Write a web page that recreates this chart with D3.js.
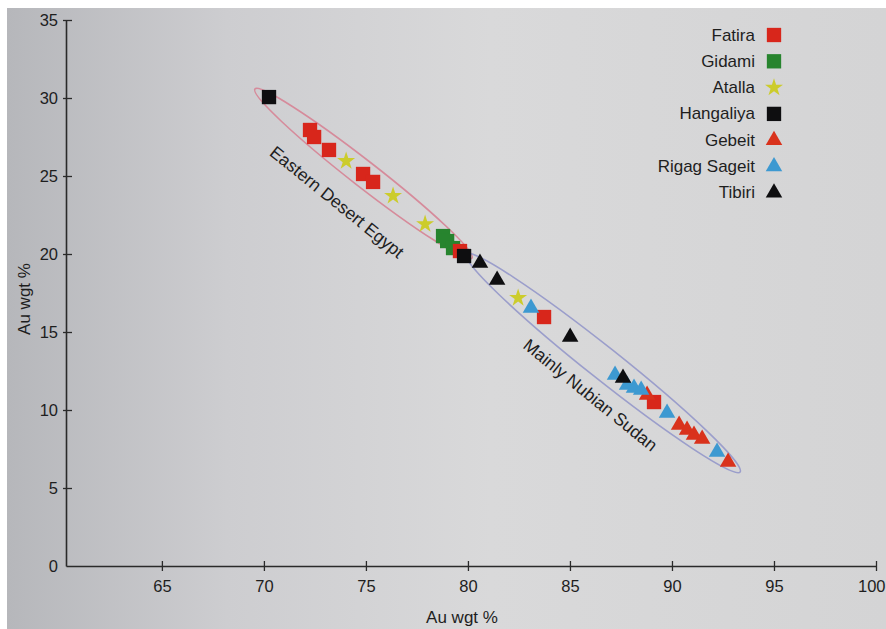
<!DOCTYPE html>
<html>
<head>
<meta charset="utf-8">
<script src="https://cdn.jsdelivr.net/npm/d3@7"></script>
<style>
  html, body { margin: 0; padding: 0; background: #ffffff; }
  svg { display: block; }
  text { font-family: "Liberation Sans", Arial, Helvetica, sans-serif; fill: #1e1e1e; }
</style>
</head>
<body>
<svg id="chart" width="886" height="629"></svg>
<script>
// Sample compositions, [x, y] in wgt %
const fatira    = [[72.26, 27.95], [72.46, 27.50], [73.19, 26.67], [74.86, 25.13], [75.35, 24.62],
                   [79.61, 20.19], [83.73, 15.96], [89.12, 10.51]];
const gidami    = [[78.78, 21.15], [78.98, 20.83], [79.27, 20.38]];
const atalla    = [[74.03, 25.96], [76.33, 23.72], [77.90, 21.92], [82.46, 17.18]];
const hangaliya = [[70.25, 30.06], [79.81, 19.87]];
const gebeit    = [[88.78, 10.96], [90.35, 9.04], [90.74, 8.72], [91.08, 8.40], [91.48, 8.14], [92.75, 6.67]];
const rigag     = [[83.09, 16.54], [87.21, 12.24], [87.80, 11.60], [88.14, 11.41], [88.49, 11.28],
                   [89.76, 9.81], [92.21, 7.31]];
const tibiri    = [[80.59, 19.42], [81.43, 18.33], [85.01, 14.68], [87.60, 12.05]];

const seriesNames = ["Fatira", "Gidami", "Atalla", "Hangaliya", "Gebeit", "Rigag Sageit", "Tibiri"];
const xTicks = [65, 70, 75, 80, 85, 90, 95, 100];
const yTicks = [0, 5, 10, 15, 20, 25, 30, 35];

// Group outlines: the two tips of each ellipse, and the group labels
const eastTips  = [[69.56, 30.58], [80.20, 19.74]];
const nubiaTips = [[79.91, 20.00], [93.34, 6.03]];
const groupLabels = ["Eastern Desert Egypt", "Mainly Nubian Sudan"];
const groupLabelAt = [[73.58, 23.33], [86.00, 10.96]];

const svg = d3.select("#chart");
const W = 886, H = 629;

// paper background
const defs = svg.append("defs");
const grad = defs.append("linearGradient").attr("id", "paper").attr("x1", "0").attr("x2", "1").attr("y1", "0").attr("y2", "0");
grad.append("stop").attr("offset", "0").attr("stop-color", "#b6b7bb");
grad.append("stop").attr("offset", "0.25").attr("stop-color", "#cdcdd0");
grad.append("stop").attr("offset", "0.55").attr("stop-color", "#d9d9da");
grad.append("stop").attr("offset", "1").attr("stop-color", "#d4d4d5");
svg.append("rect").attr("x", 7).attr("y", 8).attr("width", W - 7).attr("height", H - 8).attr("fill", "url(#paper)");

const x = d3.scaleLinear().domain([60.3, 100]).range([66, 876]);
const y = d3.scaleLinear().domain([0, 35]).range([566, 20]);

const axisColor = "#2a2a2a";

// axes
const xAxis = svg.append("g").attr("transform", `translate(0,${y(0)})`)
  .call(d3.axisBottom(x).tickValues(xTicks).tickSize(5).tickSizeOuter(0).tickPadding(9));
const yAxis = svg.append("g").attr("transform", `translate(${x.range()[0]},0)`)
  .call(d3.axisLeft(y).tickValues(yTicks).tickSize(3).tickSizeOuter(0).tickPadding(5));

[xAxis, yAxis].forEach(g => {
  g.select(".domain").attr("stroke", axisColor).attr("stroke-width", 1.6);
  g.selectAll(".tick line").attr("stroke", axisColor).attr("stroke-width", 1.3);
  g.selectAll(".tick text").attr("font-size", 16.5).attr("fill", "#1e1e1e")
    .attr("font-family", "'Liberation Sans', Arial, sans-serif");
});
// ticks cross the axis line
xAxis.selectAll(".tick line").attr("y1", -5).attr("y2", 5);
yAxis.selectAll(".tick line").attr("x1", -3).attr("x2", 6);
yAxis.selectAll(".tick").filter(d => d === 0).select("line").remove();
// keep the last x label inside the frame
xAxis.selectAll(".tick").filter(d => d === 100).select("text")
  .attr("text-anchor", "end").attr("x", 885 - x(100));

svg.append("text").attr("x", 462).attr("y", 623).attr("text-anchor", "middle")
  .attr("font-size", 17).text("Au wgt %");
svg.append("text").attr("transform", "translate(30,299) rotate(-90)").attr("text-anchor", "middle")
  .attr("font-size", 17).text("Au wgt %");

// group ellipses
function drawEllipse(tips, halfWidth, color) {
  const [p, q] = tips.map(d => [x(d[0]), y(d[1])]);
  const cx = (p[0] + q[0]) / 2, cy = (p[1] + q[1]) / 2;
  const a = Math.hypot(q[0] - p[0], q[1] - p[1]) / 2;
  const ang = Math.atan2(q[1] - p[1], q[0] - p[0]) * 180 / Math.PI;
  svg.append("ellipse")
    .attr("cx", 0).attr("cy", 0).attr("rx", a).attr("ry", halfWidth)
    .attr("transform", `translate(${cx},${cy}) rotate(${ang})`)
    .attr("fill", "none").attr("stroke", color).attr("stroke-width", 1.6);
}
drawEllipse(eastTips, 13, "#d68b9b");
drawEllipse(nubiaTips, 16, "#9b9ecb");

// group labels
groupLabels.forEach((t, i) => {
  const [gx, gy] = groupLabelAt[i];
  svg.append("text")
    .attr("transform", `translate(${x(gx)},${y(gy)}) rotate(39)`)
    .attr("text-anchor", "middle").attr("dominant-baseline", "central")
    .attr("font-size", 17.5).text(t);
});

// marker styles per series
const styles = {
  "Fatira":       { data: fatira,    shape: d3.symbolSquare,   size: 205, color: "#d8261b" },
  "Gidami":       { data: gidami,    shape: d3.symbolSquare,   size: 205, color: "#27842e" },
  "Atalla":       { data: atalla,    shape: d3.symbolStar,     size: 100, color: "#cccc2c" },
  "Hangaliya":    { data: hangaliya, shape: d3.symbolSquare,   size: 205, color: "#0e0e10" },
  "Gebeit":       { data: gebeit,    shape: d3.symbolTriangle, size: 118, color: "#d9321c" },
  "Rigag Sageit": { data: rigag,     shape: d3.symbolTriangle, size: 118, color: "#3d99d1" },
  "Tibiri":       { data: tibiri,    shape: d3.symbolTriangle, size: 118, color: "#0e0e10" }
};

const drawOrder = ["Gidami", "Fatira", "Atalla", "Hangaliya", "Gebeit", "Rigag Sageit", "Tibiri"];
drawOrder.forEach(name => {
  const s = styles[name];
  svg.append("g").selectAll("path").data(s.data).join("path")
    .attr("d", d3.symbol().type(s.shape).size(s.size))
    .attr("transform", d => `translate(${x(d[0])},${y(d[1])})`)
    .attr("fill", s.color);
});

// legend
const legend = svg.append("g");
seriesNames.forEach((name, i) => {
  const s = styles[name];
  const ly = 35 + i * 26.3;
  legend.append("text").attr("x", 755).attr("y", ly).attr("text-anchor", "end")
    .attr("dominant-baseline", "central").attr("font-size", 17).text(name);
  legend.append("path").attr("d", d3.symbol().type(s.shape).size(s.size))
    .attr("transform", `translate(774,${ly})`).attr("fill", s.color);
});
</script>
</body>
</html>
